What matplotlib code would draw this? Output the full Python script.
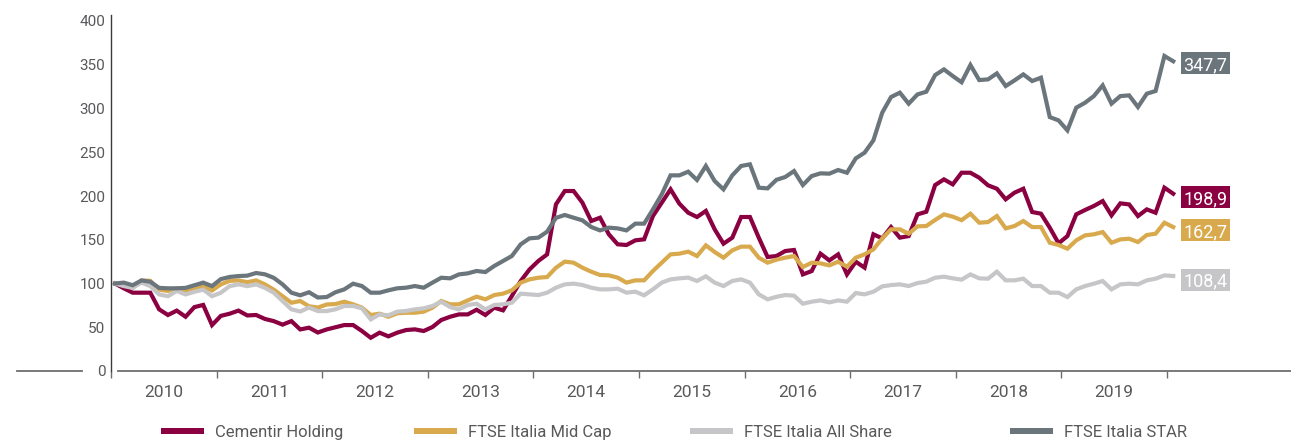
import numpy as np
import matplotlib
matplotlib.use("Agg")
import matplotlib.pyplot as plt
from matplotlib.patches import Rectangle
from matplotlib.lines import Line2D

plt.rcParams['font.family'] = ['Roboto', 'DejaVu Sans']

# ---------------- data (monthly index, base 100) ----------------
cementir = [100, 94.5, 89.5, 89.5, 89.5, 70.5, 64, 69, 62, 73, 75.5, 52.5, 63, 65.5, 69, 63.5,
            64, 59.5, 57, 53, 57, 47.5, 49.5, 44, 47.5, 50,
            52.5, 52.5, 45.7, 38, 43.8, 39.6, 43.8, 46.8, 47.6, 45.7, 50.3, 58.3, 62, 64.7, 64.7,
            70, 64, 72.4, 69.3, 85.7, 102.8, 116, 125.7, 133.3, 190.4,
            205.7, 205.7, 192.4, 171.4, 175.2, 156.2, 144.8, 144, 149.3, 150.5, 177.1, 192.4,
            207.6, 191.2, 180.9, 176, 182.9, 161.9, 145.5, 152.4, 176, 176, 152.4, 130.3, 131.4,
            137.1, 138.3, 110.4, 114.2, 134.1, 126.4, 133.3, 110.4, 124.9, 118.1, 156.2, 151.6,
            164.5, 152.4, 154.2, 179, 182, 212.5, 219, 213.3,
            226.6, 226.6, 220.9, 212.2, 208.3, 196.2, 203.8, 208.3, 181.7, 179.8, 163.8, 145.9,
            154.2, 179, 184, 188.6, 194.2, 177.9, 191.6, 190.4, 177.1, 184.7, 180.9, 209.5, 202.6]

midcap = [100, 99, 95, 103.5, 103, 93, 91.5, 94.5, 91.5, 94.5, 97, 92, 99, 103, 103.5, 101.5,
          103.5, 99, 93, 85.5, 78, 80, 74, 72.5, 76, 76.5,
          79.2, 76.2, 72.4, 64, 65.5, 62, 65.9, 66.6, 66.6, 67.8, 72.4, 80, 76.2, 76.2, 80.7,
          85, 81.9, 86.8, 88.4, 92.2, 101, 104.7, 106.6, 107.4, 118,
          125, 123.8, 118.1, 113.5, 109.7, 109.3, 106.7, 101, 103.6, 103.6, 114.3, 123.8,
          133.3, 134.1, 136.4, 131.4, 143.6, 136, 129.5, 137.9, 142.1, 142.1, 129.5, 123.8, 127.2,
          129.5, 131.4, 118.8, 123.8, 123, 120.7, 124.9, 119.2, 129.5, 133.3, 139, 151.6,
          161.9, 161.9, 156.9, 165.3, 165.7, 172.6, 179, 176.4,
          172.4, 179.8, 169.5, 170.2, 177.1, 163, 165.7, 171.4, 164.5, 164.5, 146.6, 144,
          139.8, 149.3, 155, 156.2, 158.8, 146.6, 150.4, 151.2, 147.4, 155.4, 156.9, 169.5, 164.5]

allshare = [100, 97, 95, 101, 97, 87.5, 85.5, 91.5, 87.5, 90.5, 93, 85.5, 89.5, 97, 99, 97,
            99, 95, 89.5, 80, 70.5, 68, 72.5, 68.5, 68.5, 70.5,
            74.3, 74.3, 71.6, 59, 64.7, 63.6, 67.8, 68.6, 70.4, 71.6, 74.3, 79.2, 73.1, 70.4, 75.4,
            76.9, 70.4, 75.4, 76.2, 78.1, 88.4, 87.6, 86.8, 89.5, 95.2,
            99, 99.8, 98.3, 95.2, 93.3, 93.3, 94.1, 89.5, 90.7, 86.5, 93.3, 101,
            104.7, 105.9, 106.7, 102.9, 108.2, 101, 97.1, 102.9, 104.7, 101, 87.6, 81.9, 84.8,
            86.8, 86.1, 76.9, 79.2, 80.7, 78.4, 80.7, 79.2, 89.1, 87.6, 90.6, 96.7,
            98.2, 99, 97.1, 100.5, 102.1, 106.6, 107.8, 105.9,
            104.4, 110.4, 105.9, 105.5, 113.5, 103.6, 103.6, 105.5, 97.1, 97.1, 89.5, 89.5,
            84.5, 93.3, 97.1, 99.8, 102.8, 93.3, 99, 99.8, 99, 103.6, 105.5, 109.3, 108.6]

star = [100, 101, 98, 103.5, 102, 95, 94.5, 94.5, 95, 98, 101, 97, 105, 107.5, 108.5, 109,
        112, 110.5, 106.5, 99, 89.5, 86.5, 90, 84, 84.5, 90,
        93.3, 99.8, 97.1, 89.5, 89.5, 92.2, 94.5, 95.2, 97.1, 95.2, 101, 106.6, 105.9, 110.4,
        111.6, 114.3, 113.1, 120, 125.7, 131.4, 144.7, 151.6, 152.4, 159.2, 175,
        178.3, 175.2, 172.2, 164.6, 160.7, 163.8, 163, 160.7, 168.4, 168.4, 184.7, 201.9,
        223.6, 223.6, 227.8, 218.3, 234.3, 217.1, 207.6, 223.6, 234.3, 236.2, 209.5, 208.7, 218.5,
        221.7, 228.5, 212.5, 222.8, 225.9, 225.5, 229.7, 226.6, 243, 249.5, 263.6, 295.2,
        313.1, 318.1, 305.5, 316.1, 319.2, 338.2, 344.7, 337.1,
        330, 349.7, 332.5, 333.3, 340.1, 325.7, 332.1, 339, 331.4, 335.2, 290.2, 286.4,
        275, 300.9, 306.6, 314.2, 326.4, 305.5, 314.2, 315, 301.7, 316.9, 320, 360, 354]

series_names = ["Cementir Holding", "FTSE Italia Mid Cap", "FTSE Italia All Share", "FTSE Italia STAR"]
end_labels = ["198,9", "162,7", "108,4", "347,7"]
end_label_y = [198.9, 161.0, 104.5, 352.0]
years = list(range(2010, 2020))
yticks = list(range(0, 401, 50))

colors = ["#8a0041", "#d8aa4d", "#c6c6c8", "#6b767c"]
text_col = "#58595b"

# ---------------- figure ----------------
W, H = 1291, 441
fig = plt.figure(figsize=(W / 100, H / 100), dpi=100)
ax = fig.add_axes([111 / W, 70 / H, 1180 / W, 356 / H])

n = len(cementir)
dates = np.linspace(2010.038, 2020.06, n)

# draw order: all share, mid cap, star, cementir
order = [2, 1, 3, 0]
data = [cementir, midcap, allshare, star]
for k in order:
    ax.plot(dates, data[k], color=colors[k], lw=3.0, solid_joinstyle='miter', zorder=3 + k)

ax.set_xlim(2010.0, 2010 + (W - 112) / 105.5)
ax.set_ylim(0, 356 / 0.875)

for s in ["top", "right"]:
    ax.spines[s].set_visible(False)
ax.spines["left"].set_color("#3a3a3a")
ax.spines["left"].set_linewidth(1.0)
ax.spines["bottom"].set_color("#6d6e70")
ax.spines["bottom"].set_linewidth(1.3)
ax.spines["bottom"].set_bounds(2010.065, ax.get_xlim()[1])

ax.set_yticks(yticks)
ax.set_yticklabels([str(v) for v in yticks])
ax.tick_params(axis="y", length=0, pad=4, labelsize=11, labelcolor=text_col)

ax.set_xticks([y for y in range(2010, 2021)])
ax.set_xticklabels([])
ax.tick_params(axis="x", which="major", length=5, width=1.0, color="#6d6e70", direction="out")
ax.set_xticks([y + 0.5 for y in years], minor=True)
ax.set_xticklabels([str(y) for y in years], minor=True)
ax.tick_params(axis="x", which="minor", length=0, pad=10, labelsize=12.5, labelcolor=text_col)

# end value boxes
bw = 49 / 105.5
bh = 22 / 0.875
bx = 2010 + (1181 - 112) / 105.5
for k in range(4):
    yc = end_label_y[k]
    ax.add_patch(Rectangle((bx, yc - bh / 2), bw, bh, facecolor=colors[k], edgecolor="none",
                           clip_on=False, zorder=10))
    ax.text(bx + bw / 2, yc, end_labels[k], color="white", fontsize=13, ha="center",
            va="center_baseline", zorder=11, clip_on=False)

# decorative line left of the axis
fig.add_artist(Line2D([17 / W, 82 / W], [1 - 371 / H, 1 - 371 / H], color="#6d6e70", lw=1.3))

# legend (manual)
leg_x = [161, 414, 690, 1010]
leg_y = 1 - 431 / H
for k in range(4):
    fig.add_artist(Rectangle((leg_x[k] / W, leg_y - 3 / H), 43 / W, 6.5 / H,
                             facecolor=colors[k], edgecolor="none", transform=fig.transFigure))
    fig.text((leg_x[k] + 54) / W, leg_y, series_names[k], fontsize=12, color=text_col,
             ha="left", va="center_baseline")

fig.savefig("out.png", dpi=100)
